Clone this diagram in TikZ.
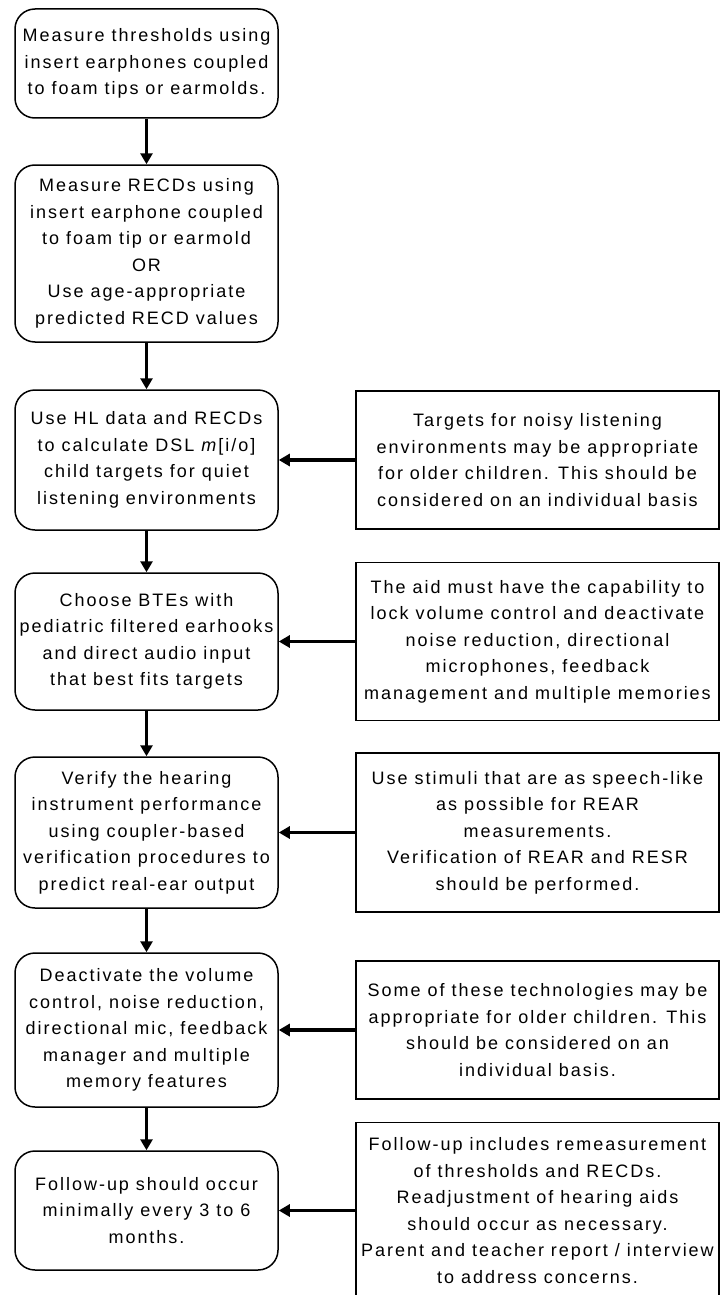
\documentclass[tikz,border=0pt]{standalone}
\usepackage{fontspec}
\setmainfont{Liberation Sans}[LetterSpace=11]
\usetikzlibrary{arrows.meta}
\tikzset{
  stepbox/.style={draw,rounded corners=20pt,line width=1.5pt,minimum width=263pt,
    inner sep=0pt,align=center,font=\fontsize{18}{26.5}\selectfont},
  notebox/.style={draw,line width=1.5pt,minimum width=363pt,
    inner sep=0pt,align=center,font=\fontsize{18}{26.5}\selectfont},
  flow/.style={-{Triangle[length=11pt,width=12pt]},line width=3.2pt}
}
\begin{document}
\begin{tikzpicture}[x=1pt,y=-1pt]
\useasboundingbox (0,0) rectangle (721,1295);
% main steps
\node[stepbox,minimum height=109pt,name=s1] at (146.5,63.5){Measure thresholds using\\insert earphones coupled\\to foam tips or earmolds.};
\node[stepbox,minimum height=177pt,name=s2] at (146.5,253.5){Measure RECDs using\\insert earphone coupled\\to foam tip or earmold\\OR\\Use age-appropriate\\predicted RECD values};
\node[stepbox,minimum height=140pt,name=s3] at (146.5,460){Use HL data and RECDs\\to calculate DSL \textit{m}[i/o]\\child targets for quiet\\listening environments};
\node[stepbox,minimum height=137pt,name=s4] at (146.5,641.5){Choose BTEs with\\pediatric filtered earhooks\\and direct audio input\\that best fits targets};
\node[stepbox,minimum height=151pt,name=s5] at (146.5,832.5){Verify the hearing\\instrument performance\\using coupler-based\\verification procedures to\\predict real-ear output};
\node[stepbox,minimum height=154pt,name=s6] at (146.5,1030){Deactivate the volume\\control, noise reduction,\\directional mic, feedback\\manager and multiple\\memory features};
\node[stepbox,minimum height=119pt,name=s7] at (146.5,1210.5){Follow-up should occur\\minimally every 3 to 6\\months.};
% side notes
\node[notebox,minimum height=138pt,name=n3] at (537.5,460){Targets for noisy listening\\environments may be appropriate\\for older children. This should be\\considered on an individual basis};
\node[notebox,minimum height=158pt,name=n4] at (537.5,641.5){The aid must have the capability to\\lock volume control and deactivate\\noise reduction, directional\\microphones, feedback\\management and multiple memories};
\node[notebox,minimum height=159pt,name=n5] at (537.5,832.5){Use stimuli that are as speech-like\\as possible for REAR\\measurements.\\Verification of REAR and RESR\\should be performed.};
\node[notebox,minimum height=138pt,name=n6] at (537.5,1030){Some of these technologies may be\\appropriate for older children. This\\should be considered on an\\individual basis.};
\node[notebox,minimum height=176pt,name=n7] at (537.5,1210.5){Follow-up includes remeasurement\\of thresholds and RECDs.\\Readjustment of hearing aids\\should occur as necessary.\\Parent and teacher report / interview\\to address concerns.};
\foreach \x \y in {1/2,2/3,3/4,4/5,5/6,6/7}{
	\draw[flow] (s\x)--(s\y);
};
\foreach \x in {3,...,7}{
	\draw[flow] (n\x)--(s\x);
};
\end{tikzpicture}
\end{document}
